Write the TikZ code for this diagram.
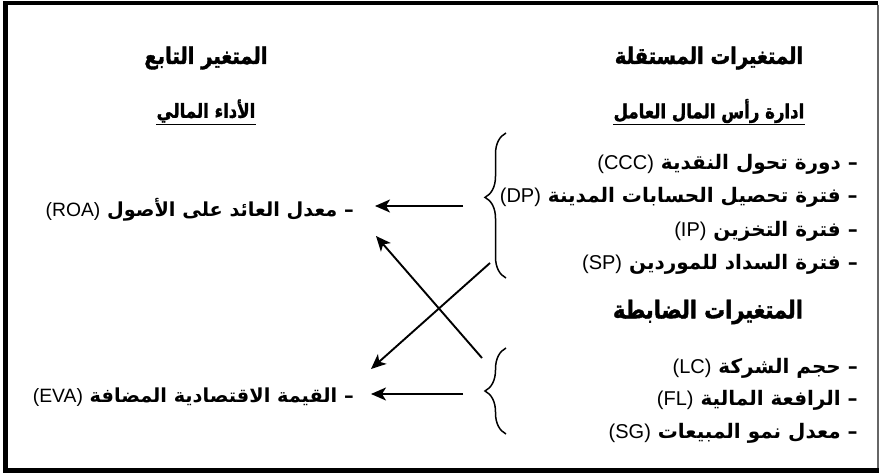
\documentclass[tikz,border=0pt]{standalone}
\usepackage{fontspec}
\usetikzlibrary{arrows.meta,decorations.pathreplacing}
\TeXXeTstate=1
\newfontfamily\arabicfont[Script=Arabic]{DejaVu Sans}
\newfontfamily\arabicheavy[Script=Arabic,FakeStretch=0.85,BoldFeatures={FakeBold=1.6}]{DejaVu Sans}
\newfontfamily\latinfont{Liberation Sans}
\newcommand{\artext}[1]{{\arabicfont\bfseries\beginR #1\endR}}
\newcommand{\artitle}[1]{{\arabicheavy\bfseries\beginR #1\endR}}
\newcommand{\latpart}[1]{\beginL{\latinfont\mdseries #1}\endL}
\begin{document}
\begin{tikzpicture}[x=1pt,y=-1pt,
  title/.style={font=\fontsize{23}{27}\selectfont, inner sep=0pt},
  subtitle/.style={font=\fontsize{19.5}{23}\selectfont, inner sep=0pt},
  item/.style={font=\fontsize{20}{24}\selectfont, inner sep=0pt, anchor=east},
  depitem/.style={item, font=\fontsize{19.3}{23}\selectfont},
  arr/.style={line width=1.9pt, -{Stealth[length=15pt,width=13pt,inset=4pt]}},
  curly/.style={line width=1.5pt, decorate, decoration={brace, amplitude=21pt}},
  uline/.style={line width=1.3pt},
]
\useasboundingbox (0,0) rectangle (879,473);
% frame
\fill[black] (3,1) rectangle (878,5.5);
\fill[black] (3,1) rectangle (7.5,472.5);
\fill[black] (3,468) rectangle (879,472.5);
\fill[black!60] (877.3,5) rectangle (879,468);

% titles
\node[title] (tind) at (709,58) {\artitle{المتغيرات المستقلة}};
\node[subtitle] (sind) at (709,111) {\artitle{ادارة رأس المال العامل}};
\draw[uline] ([yshift=-1.5pt]sind.south west) -- ([yshift=-1.5pt]sind.south east);
\node[title] (tdep) at (206,58) {\artitle{المتغير التابع}};
\node[subtitle] (sdep) at (206,111) {\artitle{الأداء المالي}};
\draw[uline] ([yshift=-1.5pt]sdep.south west) -- ([yshift=-1.5pt]sdep.south east);
\node[title, font=\fontsize{24.5}{28}\selectfont] (tctl) at (708,312) {\artitle{المتغيرات الضابطة}};

% independent items
\node[item] (ccc) at (858,164) {\artext{– دورة تحول النقدية \latpart{(CCC)}}};
\node[item] (dp) at (858,197) {\artext{– فترة تحصيل الحسابات المدينة \latpart{(DP)}}};
\node[item] (ip) at (858,231) {\artext{– فترة التخزين \latpart{(IP)}}};
\node[item] (sp) at (858,264) {\artext{– فترة السداد للموردين \latpart{(SP)}}};

% control items
\node[item] (lc) at (858,368) {\artext{– حجم الشركة \latpart{(LC)}}};
\node[item] (fl) at (858,400) {\artext{– الرافعة المالية \latpart{(FL)}}};
\node[item] (sg) at (858,433) {\artext{– معدل نمو المبيعات \latpart{(SG)}}};

% dependent items
\node[depitem] (roa) at (354,210) {\artext{– معدل العائد على الأصول \latpart{(ROA)}}};
\node[depitem] (eva) at (354,397) {\artext{– القيمة الاقتصادية المضافة \latpart{(EVA)}}};

% braces
\draw[curly, decoration={aspect=0.556}] (506,278) -- (506,133);
\draw[curly, decoration={aspect=0.5}] (506,434) -- (506,348);

% arrow end points
\coordinate (b1) at (463,206);
\coordinate (a1) at (375,206);
\coordinate (b2) at (463,394);
\coordinate (a2) at (371,394);
\coordinate (x1) at (482,358);
\coordinate (y1) at (376,236);
\coordinate (x2) at (490,263);
\coordinate (y2) at (371,369);

\draw[arr] (b1) -- (a1);
\draw[arr] (b2) -- (a2);
\draw[arr] (x1) -- (y1);
\draw[arr] (x2) -- (y2);
\end{tikzpicture}
\end{document}
